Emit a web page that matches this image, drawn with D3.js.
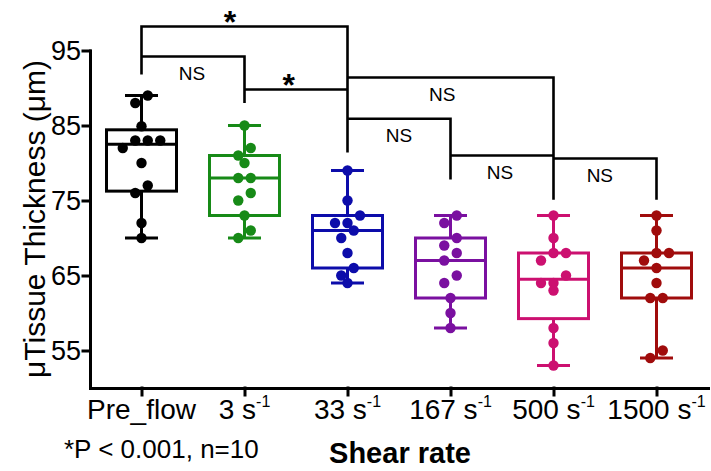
<!DOCTYPE html>
<html><head><meta charset="utf-8">
<script src="https://cdn.jsdelivr.net/npm/d3@7"></script>
<style>body{margin:0;background:#fff} svg{display:block}</style>
</head><body>
<svg id="c" width="711" height="471"></svg>
<script>
// ---- data ----
const categories = ["Pre_flow", "3 s", "33 s", "167 s", "500 s", "1500 s"];
const tickSup = ["", "-1", "-1", "-1", "-1", "-1"];
const preFlow = [89, 88, 84.9, 83, 83, 83, 82, 80, 77, 76, 72, 70];
const shear3 = [85, 82, 81, 80, 78, 78, 76, 75, 73, 71, 70];
const shear33 = [79, 75, 73, 72, 72, 71, 70, 68, 66, 65, 64];
const shear167 = [73, 72, 70, 69, 68, 67, 65, 64, 62, 60, 58];
const shear500 = [73, 70, 68, 68, 67, 65, 64, 64, 63, 58, 56, 53];
const shear1500 = [73, 71, 68, 68, 67, 66, 64, 62, 62, 55, 54];
const yTicks = [55, 65, 75, 85, 95];
const groupColors = ["#000000", "#178a17", "#0c0caa", "#7a10a0", "#cc1070", "#a00c0c"];
// significance brackets (levels in data units)
const comparisons = [
  {from: 0, to: 2, level: 98.2, legL: 91.8, legR: 81.4, label: "*", pos: 0.43},
  {from: 0, to: 1, level: 94.2, legL: 94.2, legR: 88.0, label: "NS", pos: 0.49},
  {from: 1, to: 2, level: 89.8, legL: 89.8, legR: 89.8, label: "*", pos: 0.43},
  {from: 2, to: 4, level: 91.4, legL: 91.4, legR: 75.1, label: "NS", pos: 0.46},
  {from: 2, to: 3, level: 85.9, legL: 85.9, legR: 77.8, label: "NS", pos: 0.5},
  {from: 3, to: 4, level: 81.0, legL: 81.0, legR: 81.0, label: "NS", pos: 0.48},
  {from: 4, to: 5, level: 80.6, legL: 80.6, legR: 75.1, label: "NS", pos: 0.45}
];
const groups = [preFlow, shear3, shear33, shear167, shear500, shear1500];

// ---- chart ----
const FONT = "'Liberation Sans', Arial, sans-serif";
const svg = d3.select("#c");
const x = d3.scalePoint().domain(categories).range([90, 708]).padding(0.5);
const y = d3.scaleLinear().domain([50, 95]).range([388, 50.5]);

function q(sorted, p) {
  const n = sorted.length, pos = p * (n + 1);
  if (pos <= 1) return sorted[0];
  if (pos >= n) return sorted[n - 1];
  const lo = Math.floor(pos), f = pos - lo;
  return sorted[lo - 1] + f * (sorted[lo] - sorted[lo - 1]);
}

// brackets
const br = svg.append("g").attr("stroke", "#000").attr("stroke-width", 2.6).attr("fill", "none");
comparisons.forEach(c => {
  const x0 = x(categories[c.from]), x1 = x(categories[c.to]);
  br.append("path").attr("d",
    `M${x0},${y(c.legL)}V${y(c.level)}H${x1}V${y(c.legR)}`);
  const tx = x0 + (x1 - x0) * c.pos;
  if (c.label === "*") {
    svg.append("text").attr("x", tx).attr("y", y(c.level) + 6)
      .attr("text-anchor", "middle").attr("font-family", FONT)
      .attr("font-weight", "bold").attr("font-size", 32).text("*");
  } else {
    svg.append("text").attr("x", tx).attr("y", y(c.level) + 23)
      .attr("text-anchor", "middle").attr("font-family", FONT)
      .attr("font-size", 19).text(c.label);
  }
});

// boxes
const boxW = 70, capW = 33, r = 5.2;
groups.forEach((vals, i) => {
  const col = groupColors[i];
  const cx = x(categories[i]);
  const s = vals.slice().sort(d3.ascending);
  const mn = s[0], mx = s[s.length - 1];
  const q1 = q(s, 0.25), med = q(s, 0.5), q3 = q(s, 0.75);
  const g = svg.append("g").attr("stroke", col).attr("stroke-width", 3).attr("fill", "none");
  g.append("line").attr("x1", cx).attr("x2", cx).attr("y1", y(mx)).attr("y2", y(q3));
  g.append("line").attr("x1", cx).attr("x2", cx).attr("y1", y(q1)).attr("y2", y(mn));
  g.append("line").attr("x1", cx - capW / 2).attr("x2", cx + capW / 2).attr("y1", y(mx)).attr("y2", y(mx));
  g.append("line").attr("x1", cx - capW / 2).attr("x2", cx + capW / 2).attr("y1", y(mn)).attr("y2", y(mn));
  g.append("rect").attr("x", cx - boxW / 2).attr("width", boxW)
    .attr("y", y(q3)).attr("height", y(q1) - y(q3));
  g.append("line").attr("x1", cx - boxW / 2).attr("x2", cx + boxW / 2).attr("y1", y(med)).attr("y2", y(med));

  // row-based swarm layout
  const pts = s.slice().reverse().map(v => ({v, py: y(v)}));
  const rows = [];
  pts.forEach(p => {
    const last = rows[rows.length - 1];
    if (last && p.py - last[0].py < 11) last.push(p); else rows.push([p]);
  });
  const step = 12.5;
  rows.forEach(row => {
    row.sort((a, b) => a.v - b.v);
    row.forEach((p, k) => { p.px = cx + (k - (row.length - 1) / 2) * step; });
  });
  svg.append("g").attr("fill", col).selectAll("circle").data(pts).join("circle")
    .attr("cx", d => d.px).attr("cy", d => d.py).attr("r", r);
});

// axes
const yAxis = svg.append("g").attr("transform", "translate(90,0)")
  .call(d3.axisLeft(y).tickValues(yTicks).tickSize(7).tickSizeOuter(0).tickPadding(2));
const xAxis = svg.append("g").attr("transform", "translate(0,388)")
  .call(d3.axisBottom(x).tickSize(7).tickSizeOuter(0).tickFormat(""));
[yAxis, xAxis].forEach(a => {
  a.selectAll("path,line").attr("stroke", "#000").attr("stroke-width", 3).attr("stroke-linecap", "square");
});
yAxis.selectAll("text").attr("font-family", FONT).attr("font-size", 27).attr("fill", "#000");

// x tick labels with superscripts
const xl = svg.append("g").attr("font-family", FONT).attr("font-size", 28).attr("fill", "#000");
categories.forEach((c, i) => {
  const t = xl.append("text").attr("x", x(c)).attr("y", 419).attr("text-anchor", "middle");
  t.append("tspan").text(c);
  if (tickSup[i]) t.append("tspan").attr("font-size", 16).attr("dy", -12).text(tickSup[i]);
});

// titles
svg.append("text").attr("transform", "translate(45,219) rotate(-90)")
  .attr("text-anchor", "middle").attr("font-family", FONT).attr("font-size", 30)
  .text("\u03bcTissue Thickness (\u03bcm)");
svg.append("text").attr("x", 400).attr("y", 463).attr("text-anchor", "middle")
  .attr("font-family", FONT).attr("font-weight", "bold").attr("font-size", 29).text("Shear rate");
svg.append("text").attr("x", 64).attr("y", 458)
  .attr("font-family", FONT).attr("font-size", 26).text("*P < 0.001, n=10");
</script>
</body></html>
